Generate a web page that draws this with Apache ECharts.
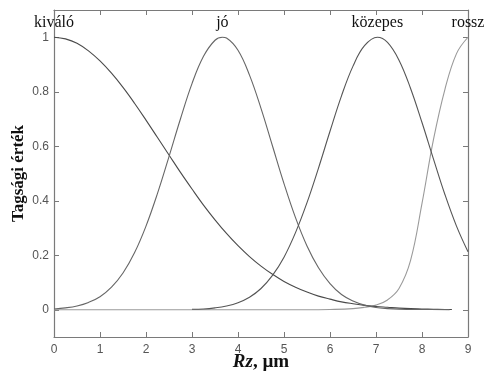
<!DOCTYPE html>
<html>
<head>
<meta charset="utf-8">
<script src="https://cdn.jsdelivr.net/npm/echarts@6/dist/echarts.min.js"></script>
<style>
  html, body { margin: 0; padding: 0; background: #fff; }
  #chart { width: 486px; height: 374px; }
</style>
</head>
<body>
<div id="chart"></div>
<script>
// Membership functions of surface roughness Rz (µm) for four quality classes.
const classNames = ['kiváló', 'jó', 'közepes', 'rossz'];

const kivaloX = [0, 0.25, 0.5, 0.75, 1, 1.25, 1.5, 1.75, 2, 2.25, 2.5, 2.75, 3, 3.25, 3.5, 3.75, 4, 4.25, 4.5, 4.75, 5, 5.25, 5.5, 5.75, 6, 6.25, 6.5, 6.75, 7, 7.25, 7.5, 7.75, 8, 8.25, 8.5, 8.65];
const kivaloY = [1, 0.994, 0.978, 0.95, 0.913, 0.868, 0.816, 0.758, 0.696, 0.632, 0.568, 0.504, 0.443, 0.384, 0.33, 0.28, 0.235, 0.195, 0.16, 0.13, 0.104, 0.083, 0.065, 0.05, 0.039, 0.029, 0.022, 0.016, 0.012, 0.009, 0.006, 0.004, 0.003, 0.002, 0.001, 0.001];

const joX = [0, 0.25, 0.5, 0.75, 1, 1.25, 1.5, 1.75, 2, 2.25, 2.5, 2.75, 3, 3.25, 3.5, 3.66, 3.75, 4, 4.25, 4.5, 4.75, 5, 5.25, 5.5, 5.75, 6, 6.25, 6.5, 6.75, 7, 7.25, 7.5, 8, 8.6];
const joY = [0.003, 0.007, 0.014, 0.027, 0.048, 0.083, 0.135, 0.209, 0.307, 0.427, 0.562, 0.701, 0.83, 0.93, 0.989, 1, 0.997, 0.952, 0.861, 0.739, 0.601, 0.463, 0.338, 0.234, 0.154, 0.096, 0.056, 0.032, 0.017, 0.008, 0.004, 0.002, 0.001, 0.0005];

const kozepesX = [3, 3.25, 3.5, 3.75, 4, 4.25, 4.5, 4.75, 5, 5.25, 5.5, 5.75, 6, 6.25, 6.5, 6.75, 7.03, 7.25, 7.5, 7.75, 8, 8.25, 8.5, 8.75, 9];
const kozepesY = [0.002, 0.003, 0.007, 0.014, 0.026, 0.046, 0.078, 0.126, 0.193, 0.283, 0.393, 0.52, 0.655, 0.785, 0.894, 0.969, 1, 0.981, 0.916, 0.813, 0.687, 0.553, 0.422, 0.307, 0.213];

const rosszX = [0, 1, 2, 3, 4, 5, 5.5, 6, 6.5, 6.75, 7, 7.25, 7.5, 7.75, 8, 8.25, 8.5, 8.75, 9];
const rosszY = [0, 0, 0, 0, 0, 0, 0, 0.001, 0.004, 0.009, 0.017, 0.036, 0.078, 0.18, 0.39, 0.625, 0.81, 0.94, 1];

const xTicks = [0, 1, 2, 3, 4, 5, 6, 7, 8, 9];
const yTicks = [0, 0.2, 0.4, 0.6, 0.8, 1];

const curveColors = ['#4a4a4a', '#666666', '#555555', '#9a9a9a'];
const frameColor = '#7a7a7a';
const serif = '"Liberation Serif", "Times New Roman", serif';
const sans = '"Liberation Sans", Arial, sans-serif';

function buildSeries(name, xs, ys, color) {
  const peak = ys.indexOf(Math.max.apply(null, ys));
  const data = xs.map((x, i) => {
    const point = { value: [x, ys[i]] };
    if (i === peak) {
      point.label = {
        show: true,
        position: 'top',
        distance: 6,
        formatter: name,
        color: '#111',
        fontFamily: serif,
        fontSize: 16
      };
    }
    return point;
  });
  return {
    name: name,
    type: 'line',
    data: data,
    smooth: 0.4,
    showSymbol: true,
    showAllSymbol: true,
    symbol: 'circle',
    symbolSize: 0,
    clip: false,
    lineStyle: { color: color, width: 1.1 },
    itemStyle: { color: color, borderWidth: 0 },
    emphasis: { disabled: true },
    z: 3
  };
}

const frameAxisX = {
  type: 'value', min: 0, max: 9, interval: 1,
  axisLine: { show: true, onZero: false, lineStyle: { color: frameColor, width: 1.2 } },
  axisTick: { show: true, inside: true, length: 5, lineStyle: { color: frameColor } },
  splitLine: { show: false }
};
const frameAxisY = {
  type: 'value', min: -0.1, max: 1.1,
  axisLine: { show: true, onZero: false, lineStyle: { color: frameColor, width: 1.2 } },
  axisTick: { show: true, inside: true, length: 5, customValues: yTicks, lineStyle: { color: frameColor } },
  splitLine: { show: false }
};

const chart = echarts.init(document.getElementById('chart'), null, { renderer: 'canvas' });
chart.setOption({
  animation: false,
  backgroundColor: '#fff',
  tooltip: { show: false },
  grid: { left: 54, right: 18, top: 10, bottom: 37, containLabel: false, outerBoundsMode: 'none' },
  xAxis: [
    Object.assign({}, frameAxisX, {
      position: 'bottom',
      name: '{i|Rz}{b|, µm}',
      nameLocation: 'middle',
      nameGap: 16,
      nameMoveOverlap: false,
      nameTextStyle: {
        rich: {
          i: { fontFamily: serif, fontSize: 19, fontWeight: 'bold', fontStyle: 'italic', color: '#111' },
          b: { fontFamily: serif, fontSize: 19, fontWeight: 'bold', color: '#111' }
        }
      },
      axisLabel: {
        show: true, margin: 7, color: '#555', fontFamily: sans, fontSize: 12,
        customValues: xTicks,
        formatter: v => String(v)
      }
    }),
    Object.assign({}, frameAxisX, { position: 'top', axisLabel: { show: false } })
  ],
  yAxis: [
    Object.assign({}, frameAxisY, {
      position: 'left',
      name: 'Tagsági érték',
      nameLocation: 'middle',
      nameGap: 27,
      nameMoveOverlap: false,
      nameTextStyle: { fontFamily: serif, fontSize: 17, fontWeight: 'bold', color: '#111' },
      axisLabel: {
        show: true, margin: 5, color: '#555', fontFamily: sans, fontSize: 12,
        customValues: yTicks,
        formatter: v => String(Math.round(v * 10) / 10)
      }
    }),
    Object.assign({}, frameAxisY, { position: 'right', axisLabel: { show: false } })
  ],
  series: [
    buildSeries(classNames[3], rosszX, rosszY, curveColors[3]),
    buildSeries(classNames[0], kivaloX, kivaloY, curveColors[0]),
    buildSeries(classNames[1], joX, joY, curveColors[1]),
    buildSeries(classNames[2], kozepesX, kozepesY, curveColors[2])
  ]
});
</script>
</body>
</html>
